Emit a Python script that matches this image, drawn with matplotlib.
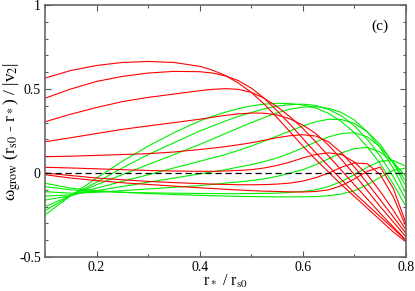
import matplotlib
matplotlib.use("Agg")
import matplotlib.pyplot as plt
from matplotlib.ticker import MultipleLocator, FixedLocator

plt.rcParams['font.family'] = ['Liberation Serif', 'DejaVu Serif']
plt.rcParams['mathtext.fontset'] = 'stix'

# sample positions along r_* / r_s0
x = [0.10, 0.15, 0.20, 0.25, 0.30, 0.35, 0.40, 0.425, 0.45, 0.475, 0.50, 0.525,
     0.55, 0.575, 0.60, 0.625, 0.65, 0.675, 0.70, 0.725, 0.75, 0.775, 0.80]

# red family (top to bottom at left edge)
red_1 = [0.565, 0.61, 0.64, 0.658, 0.664, 0.658, 0.635, 0.612, 0.58, 0.535, 0.48, 0.41,
         0.33, 0.245, 0.16, 0.08, 0.005, -0.07, -0.14, -0.21, -0.28, -0.35, -0.41]
red_2 = [0.445, 0.50, 0.545, 0.575, 0.595, 0.605, 0.603, 0.595, 0.578, 0.55, 0.505, 0.445,
         0.37, 0.29, 0.205, 0.12, 0.04, -0.04, -0.12, -0.19, -0.26, -0.33, -0.40]
red_3 = [0.305, 0.35, 0.39, 0.425, 0.45, 0.47, 0.49, 0.498, 0.502, 0.498, 0.48, 0.445,
         0.395, 0.335, 0.265, 0.185, 0.10, 0.015, -0.07, -0.155, -0.24, -0.32, -0.40]
red_4 = [0.186, 0.21, 0.235, 0.26, 0.28, 0.30, 0.32, 0.332, 0.343, 0.352, 0.357, 0.356,
         0.345, 0.322, 0.285, 0.235, 0.165, 0.08, -0.01, -0.105, -0.20, -0.29, -0.38]
red_5 = [0.097, 0.10, 0.105, 0.11, 0.115, 0.125, 0.14, 0.148, 0.157, 0.168, 0.18, 0.195,
         0.21, 0.222, 0.228, 0.22, 0.185, 0.12, 0.035, -0.06, -0.16, -0.26, -0.36]
red_6 = [0.034, 0.03, 0.025, 0.02, 0.015, 0.012, 0.01, 0.01, 0.012, 0.015, 0.02, 0.03,
         0.045, 0.065, 0.09, 0.11, 0.12, 0.11, 0.065, -0.01, -0.11, -0.22, -0.34]
red_7 = [0.0, -0.015, -0.03, -0.04, -0.05, -0.057, -0.063, -0.066, -0.068, -0.07, -0.07, -0.069,
         -0.066, -0.06, -0.048, -0.028, 0.0, 0.035, 0.06, 0.055, -0.01, -0.14, -0.32]
red_8 = [-0.01, -0.03, -0.045, -0.058, -0.068, -0.078, -0.088, -0.092, -0.097, -0.101, -0.105, -0.108,
         -0.11, -0.112, -0.113, -0.11, -0.10, -0.075, -0.035, 0.01, 0.035, -0.09, -0.30]
reds = [red_1, red_2, red_3, red_4, red_5, red_6, red_7, red_8]

# green family (top to bottom at left edge)
green_1 = [-0.061, -0.09, -0.105, -0.115, -0.122, -0.128, -0.133, -0.135, -0.137, -0.139, -0.14, -0.141,
           -0.142, -0.142, -0.142, -0.14, -0.135, -0.125, -0.105, -0.07, -0.025, 0.015, 0.03]
green_2 = [-0.081, -0.10, -0.11, -0.115, -0.118, -0.12, -0.122, -0.122, -0.123, -0.123, -0.122, -0.121,
           -0.12, -0.115, -0.11, -0.10, -0.08, -0.05, -0.01, 0.035, 0.07, 0.075, 0.04]
green_3 = [-0.111, -0.12, -0.115, -0.105, -0.095, -0.085, -0.075, -0.068, -0.06, -0.053, -0.045, -0.035,
           -0.02, 0.0, 0.02, 0.05, 0.085, 0.12, 0.145, 0.152, 0.125, 0.065, -0.02]
green_4 = [-0.137, -0.13, -0.105, -0.08, -0.055, -0.03, -0.005, 0.007, 0.02, 0.035, 0.05, 0.068,
           0.09, 0.118, 0.15, 0.185, 0.215, 0.235, 0.24, 0.215, 0.155, 0.065, -0.05]
green_5 = [-0.161, -0.135, -0.09, -0.05, -0.01, 0.03, 0.07, 0.09, 0.11, 0.135, 0.16, 0.19,
           0.22, 0.25, 0.28, 0.305, 0.32, 0.318, 0.295, 0.245, 0.17, 0.06, -0.08]
green_6 = [-0.20, -0.135, -0.07, -0.01, 0.05, 0.11, 0.17, 0.202, 0.235, 0.268, 0.30, 0.33,
           0.358, 0.38, 0.392, 0.395, 0.385, 0.36, 0.315, 0.245, 0.15, 0.03, -0.12]
green_7 = [-0.224, -0.135, -0.055, 0.03, 0.11, 0.18, 0.25, 0.28, 0.31, 0.337, 0.36, 0.382,
           0.398, 0.407, 0.41, 0.402, 0.378, 0.34, 0.28, 0.20, 0.10, -0.02, -0.16]
green_8 = [-0.25, -0.135, -0.03, 0.07, 0.16, 0.24, 0.31, 0.338, 0.362, 0.383, 0.40, 0.41,
           0.415, 0.413, 0.405, 0.387, 0.355, 0.305, 0.24, 0.155, 0.055, -0.065, -0.20]
greens = [green_1, green_2, green_3, green_4, green_5, green_6, green_7, green_8]

x_ticks = [0.2, 0.4, 0.6, 0.8]
y_ticks = [-0.5, 0, 0.5, 1]
y_tick_labels = ['-0.5', '0', '0.5', '1']

fig = plt.figure(figsize=(4.15, 2.91), dpi=100)
ax = fig.add_axes([0.1084, 0.1168, 0.870, 0.866])

for g in greens:
    ax.plot(x, g, color='#00ee00', lw=0.8)
for r in reds:
    ax.plot(x, r, color='#ff0000', lw=0.8)

ax.axhline(0, color='black', lw=0.9, ls=(0, (5, 3)))

ax.set_xlim(0.1, 0.8)
ax.set_ylim(-0.5, 1)
ax.xaxis.set_major_locator(FixedLocator(x_ticks))
ax.xaxis.set_minor_locator(MultipleLocator(0.1))
ax.yaxis.set_major_locator(FixedLocator(y_ticks))
ax.yaxis.set_minor_locator(MultipleLocator(0.1))
ax.set_yticklabels(y_tick_labels)
ax.set_xticklabels([str(t) for t in x_ticks])

ax.tick_params(which='both', direction='in', top=True, right=True,
               labelsize=10, color='#555555', pad=3)
ax.tick_params(which='major', length=4.5, width=0.8)
ax.tick_params(which='minor', length=2.5, width=0.8)
for s in ax.spines.values():
    s.set_color('#666666')
    s.set_linewidth(1.2)

ax.set_xlabel(r'r$_*$ / r$_{\rm s0}$', fontsize=11.5)
ax.set_ylabel(r'ω$_{\rm grow}$ (r$_{\rm s0}$ - r$_*$) / |v$_2$|', fontsize=12.5)
ax.xaxis.set_label_coords(0.5, -0.065)
ax.yaxis.set_label_coords(-0.06, 0.5)
ax.text(0.75, 0.875, '(c)', fontsize=11, ha='center', va='center')

fig.savefig('out.png', dpi=100)
